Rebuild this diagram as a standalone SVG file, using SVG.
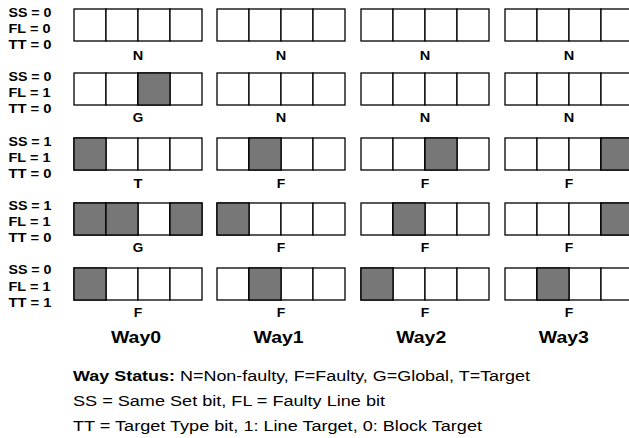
<svg xmlns="http://www.w3.org/2000/svg" width="629" height="438" viewBox="0 0 629 438">
<style>
text{font-family:"Liberation Sans",Arial,sans-serif;fill:#000}
.bit{font-size:12px;font-weight:bold}
.st{font-size:12.5px;font-weight:bold;text-anchor:middle}
.way{font-size:16px;font-weight:bold;text-anchor:middle}
.leg{font-size:15.5px}
.c{fill:#fff;stroke:#000;stroke-width:1.3}
.g{fill:#777;stroke:#000;stroke-width:1.3}
</style>
<rect width="629" height="438" fill="#fff"/>
<defs>
<g id="box"><rect class="c" x="0" y="0" width="32" height="32"/><rect class="c" x="32" y="0" width="32" height="32"/><rect class="c" x="64" y="0" width="32" height="32"/><rect class="c" x="96" y="0" width="32" height="32"/></g>
</defs>
<g id="connectors"/>
<!-- row 1 -->
<g id="row1-bits"><text class="bit" x="8.5" y="17" textLength="43" lengthAdjust="spacingAndGlyphs">SS = 0</text><text class="bit" x="8.5" y="33" textLength="42" lengthAdjust="spacingAndGlyphs">FL = 0</text><text class="bit" x="8.5" y="49" textLength="43" lengthAdjust="spacingAndGlyphs">TT = 0</text></g>
<g id="r1w0"><use href="#box" x="74" y="9"/><text class="st" x="138" y="59.5" textLength="10.5" lengthAdjust="spacingAndGlyphs">N</text></g>
<g id="r1w1"><use href="#box" x="217" y="9"/><text class="st" x="281" y="59.5" textLength="10.5" lengthAdjust="spacingAndGlyphs">N</text></g>
<g id="r1w2"><use href="#box" x="361" y="9"/><text class="st" x="425" y="59.5" textLength="10.5" lengthAdjust="spacingAndGlyphs">N</text></g>
<g id="r1w3"><use href="#box" x="505" y="9"/><text class="st" x="569" y="59.5" textLength="10.5" lengthAdjust="spacingAndGlyphs">N</text></g>
<!-- row 2 -->
<g id="row2-bits"><text class="bit" x="8.5" y="81" textLength="43" lengthAdjust="spacingAndGlyphs">SS = 0</text><text class="bit" x="8.5" y="97" textLength="42" lengthAdjust="spacingAndGlyphs">FL = 1</text><text class="bit" x="8.5" y="113" textLength="43" lengthAdjust="spacingAndGlyphs">TT = 0</text></g>
<g id="r2w0"><use href="#box" x="74" y="73"/><rect class="g" x="138" y="73" width="32" height="32"/><text class="st" x="138" y="122" textLength="10.5" lengthAdjust="spacingAndGlyphs">G</text></g>
<g id="r2w1"><use href="#box" x="217" y="73"/><text class="st" x="281" y="122" textLength="10.5" lengthAdjust="spacingAndGlyphs">N</text></g>
<g id="r2w2"><use href="#box" x="361" y="73"/><text class="st" x="425" y="122" textLength="10.5" lengthAdjust="spacingAndGlyphs">N</text></g>
<g id="r2w3"><use href="#box" x="505" y="73"/><text class="st" x="569" y="122" textLength="10.5" lengthAdjust="spacingAndGlyphs">N</text></g>
<!-- row 3 -->
<g id="row3-bits"><text class="bit" x="8.5" y="146" textLength="43" lengthAdjust="spacingAndGlyphs">SS = 1</text><text class="bit" x="8.5" y="162" textLength="42" lengthAdjust="spacingAndGlyphs">FL = 1</text><text class="bit" x="8.5" y="178" textLength="43" lengthAdjust="spacingAndGlyphs">TT = 0</text></g>
<g id="r3w0"><use href="#box" x="74" y="138"/><rect class="g" x="74" y="138" width="32" height="32"/><text class="st" x="138" y="188" textLength="9" lengthAdjust="spacingAndGlyphs">T</text></g>
<g id="r3w1"><use href="#box" x="217" y="138"/><rect class="g" x="249" y="138" width="32" height="32"/><text class="st" x="281" y="188" textLength="8.5" lengthAdjust="spacingAndGlyphs">F</text></g>
<g id="r3w2"><use href="#box" x="361" y="138"/><rect class="g" x="425" y="138" width="32" height="32"/><text class="st" x="425" y="188" textLength="8.5" lengthAdjust="spacingAndGlyphs">F</text></g>
<g id="r3w3"><use href="#box" x="505" y="138"/><rect class="g" x="601" y="138" width="32" height="32"/><text class="st" x="569" y="188" textLength="8.5" lengthAdjust="spacingAndGlyphs">F</text></g>
<!-- row 4 -->
<g id="row4-bits"><text class="bit" x="8.5" y="210" textLength="43" lengthAdjust="spacingAndGlyphs">SS = 1</text><text class="bit" x="8.5" y="226" textLength="42" lengthAdjust="spacingAndGlyphs">FL = 1</text><text class="bit" x="8.5" y="242" textLength="43" lengthAdjust="spacingAndGlyphs">TT = 0</text></g>
<g id="r4w0"><use href="#box" x="74" y="203"/><rect class="g" x="74" y="203" width="32" height="32"/><rect class="g" x="106" y="203" width="32" height="32"/><rect class="g" x="170" y="203" width="32" height="32"/><text class="st" x="138" y="252" textLength="10.5" lengthAdjust="spacingAndGlyphs">G</text></g>
<g id="r4w1"><use href="#box" x="217" y="203"/><rect class="g" x="217" y="203" width="32" height="32"/><text class="st" x="281" y="252" textLength="8.5" lengthAdjust="spacingAndGlyphs">F</text></g>
<g id="r4w2"><use href="#box" x="361" y="203"/><rect class="g" x="393" y="203" width="32" height="32"/><text class="st" x="425" y="252" textLength="8.5" lengthAdjust="spacingAndGlyphs">F</text></g>
<g id="r4w3"><use href="#box" x="505" y="203"/><rect class="g" x="601" y="203" width="32" height="32"/><text class="st" x="569" y="252" textLength="8.5" lengthAdjust="spacingAndGlyphs">F</text></g>
<!-- row 5 -->
<g id="row5-bits"><text class="bit" x="8.5" y="274" textLength="43" lengthAdjust="spacingAndGlyphs">SS = 0</text><text class="bit" x="8.5" y="291" textLength="42" lengthAdjust="spacingAndGlyphs">FL = 1</text><text class="bit" x="8.5" y="307" textLength="43" lengthAdjust="spacingAndGlyphs">TT = 1</text></g>
<g id="r5w0"><use href="#box" x="74" y="268"/><rect class="g" x="74" y="268" width="32" height="32"/><text class="st" x="138" y="316.5" textLength="8.5" lengthAdjust="spacingAndGlyphs">F</text></g>
<g id="r5w1"><use href="#box" x="217" y="268"/><rect class="g" x="249" y="268" width="32" height="32"/><text class="st" x="281" y="316.5" textLength="8.5" lengthAdjust="spacingAndGlyphs">F</text></g>
<g id="r5w2"><use href="#box" x="361" y="268"/><rect class="g" x="361" y="268" width="32" height="32"/><text class="st" x="425" y="316.5" textLength="8.5" lengthAdjust="spacingAndGlyphs">F</text></g>
<g id="r5w3"><use href="#box" x="505" y="268"/><rect class="g" x="537" y="268" width="32" height="32"/><text class="st" x="569" y="316.5" textLength="8.5" lengthAdjust="spacingAndGlyphs">F</text></g>
<!-- way labels -->
<g id="way-labels">
<text class="way" x="136" y="343" textLength="50" lengthAdjust="spacingAndGlyphs">Way0</text>
<text class="way" x="278.6" y="343" textLength="50" lengthAdjust="spacingAndGlyphs">Way1</text>
<text class="way" x="421.2" y="343" textLength="50" lengthAdjust="spacingAndGlyphs">Way2</text>
<text class="way" x="563.8" y="343" textLength="50" lengthAdjust="spacingAndGlyphs">Way3</text>
</g>
<g id="legend">
<text class="leg" x="73" y="381" textLength="457" lengthAdjust="spacingAndGlyphs"><tspan font-weight="bold">Way Status:</tspan> N=Non-faulty, F=Faulty, G=Global, T=Target</text>
<text class="leg" x="73" y="406" textLength="312" lengthAdjust="spacingAndGlyphs">SS = Same Set bit, FL = Faulty Line bit</text>
<text class="leg" x="73" y="431" textLength="409" lengthAdjust="spacingAndGlyphs">TT = Target Type bit, 1: Line Target, 0: Block Target</text>
</g>
</svg>
